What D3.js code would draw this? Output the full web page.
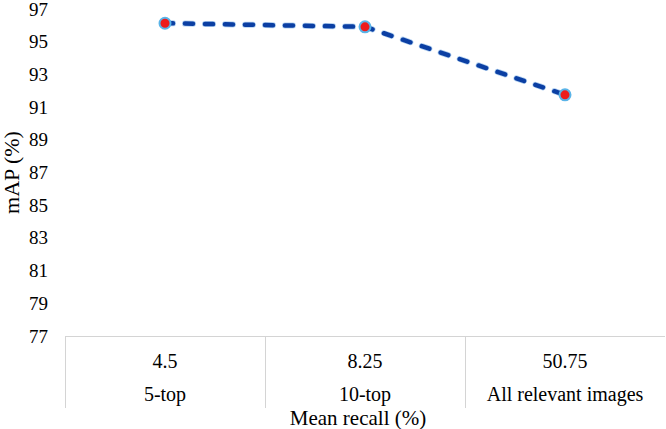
<!DOCTYPE html>
<html>
<head>
<meta charset="utf-8">
<script src="https://cdn.jsdelivr.net/npm/d3@7"></script>
<style>
  body { margin: 0; background: #fff; }
  text { font-family: "Liberation Serif", "Times New Roman", serif; fill: #000; }
</style>
</head>
<body>
<div id="chart"></div>
<script>
(function()
{
    var width = 666;
    var height = 429;

    var categories = ["5-top", "10-top", "All relevant images"];
    var recall = ["4.5", "8.25", "50.75"];
    var mapValues = [96.13, 95.91, 91.75];
    var yTicks = [77, 79, 81, 83, 85, 87, 89, 91, 93, 95, 97];

    var left = 65, right = 665, top = 9, axisY = 336;

    var svg = d3.select("#chart")
        .append("svg")
        .attr("width", width)
        .attr("height", height);

    var x = d3.scaleBand()
        .domain(categories)
        .range([left, right]);

    var y = d3.scaleLinear()
        .domain([77, 97])
        .range([axisY, top]);

    // y axis: labels only
    var yAxis = d3.axisLeft(y).tickValues(yTicks).tickSize(0).tickPadding(0).tickFormat(d3.format("d"));
    var gy = svg.append("g").attr("transform", "translate(48,0)").call(yAxis);
    gy.select(".domain").remove();
    gy.selectAll("text").style("font-size", "19px").style("font-family", "Liberation Serif, serif");

    svg.append("text")
        .attr("transform", "translate(19," + ((top + axisY) / 2) + ") rotate(-90)")
        .attr("text-anchor", "middle")
        .style("font-size", "22px")
        .text("mAP (%)");

    // data table under the plot
    var gridColor = "#d4d4d4";
    svg.append("line")
        .attr("x1", left).attr("x2", right)
        .attr("y1", axisY + 0.5).attr("y2", axisY + 0.5)
        .attr("stroke", gridColor);

    var edges = [left].concat(categories.map(function(c){ return x(c) + x.bandwidth(); }));
    svg.selectAll(".vline").data(edges.slice(0, 3))
        .enter().append("line")
        .attr("class", "vline")
        .attr("x1", function(d){ return d + 0.5; })
        .attr("x2", function(d){ return d + 0.5; })
        .attr("y1", axisY)
        .attr("y2", 408)
        .attr("stroke", gridColor);

    svg.selectAll(".recall").data(recall)
        .enter().append("text")
        .attr("class", "recall")
        .attr("x", function(d, i){ return x(categories[i]) + x.bandwidth() / 2; })
        .attr("y", 368)
        .attr("text-anchor", "middle")
        .style("font-size", "20px")
        .text(function(d){ return d; });

    svg.selectAll(".cat").data(categories)
        .enter().append("text")
        .attr("class", "cat")
        .attr("x", function(d){ return x(d) + x.bandwidth() / 2; })
        .attr("y", 401)
        .attr("text-anchor", "middle")
        .style("font-size", "20px")
        .text(function(d){ return d; });

    svg.append("text")
        .attr("x", 358)
        .attr("y", 425)
        .attr("text-anchor", "middle")
        .style("font-size", "21px")
        .text("Mean recall (%)");

    // dashed line with a soft outline
    var line = d3.line()
        .x(function(d, i){ return x(categories[i]) + x.bandwidth() / 2; })
        .y(function(d){ return y(d); });

    svg.append("path")
        .datum(mapValues)
        .attr("d", line)
        .attr("fill", "none")
        .attr("stroke", "#7fb0e6")
        .attr("stroke-width", 6)
        .attr("stroke-linecap", "round")
        .attr("stroke-dasharray", "8,12")
        .attr("opacity", 0.6);

    svg.append("path")
        .datum(mapValues)
        .attr("d", line)
        .attr("fill", "none")
        .attr("stroke", "#0b3fa3")
        .attr("stroke-width", 4.5)
        .attr("stroke-linecap", "round")
        .attr("stroke-dasharray", "8,12");

    svg.selectAll(".pt").data(mapValues)
        .enter().append("circle")
        .attr("class", "pt")
        .attr("cx", function(d, i){ return x(categories[i]) + x.bandwidth() / 2; })
        .attr("cy", function(d){ return y(d); })
        .attr("r", 5.5)
        .attr("fill", "#ee1c1c")
        .attr("stroke", "#5ab4e8")
        .attr("stroke-width", 2);
})();
</script>
</body>
</html>
